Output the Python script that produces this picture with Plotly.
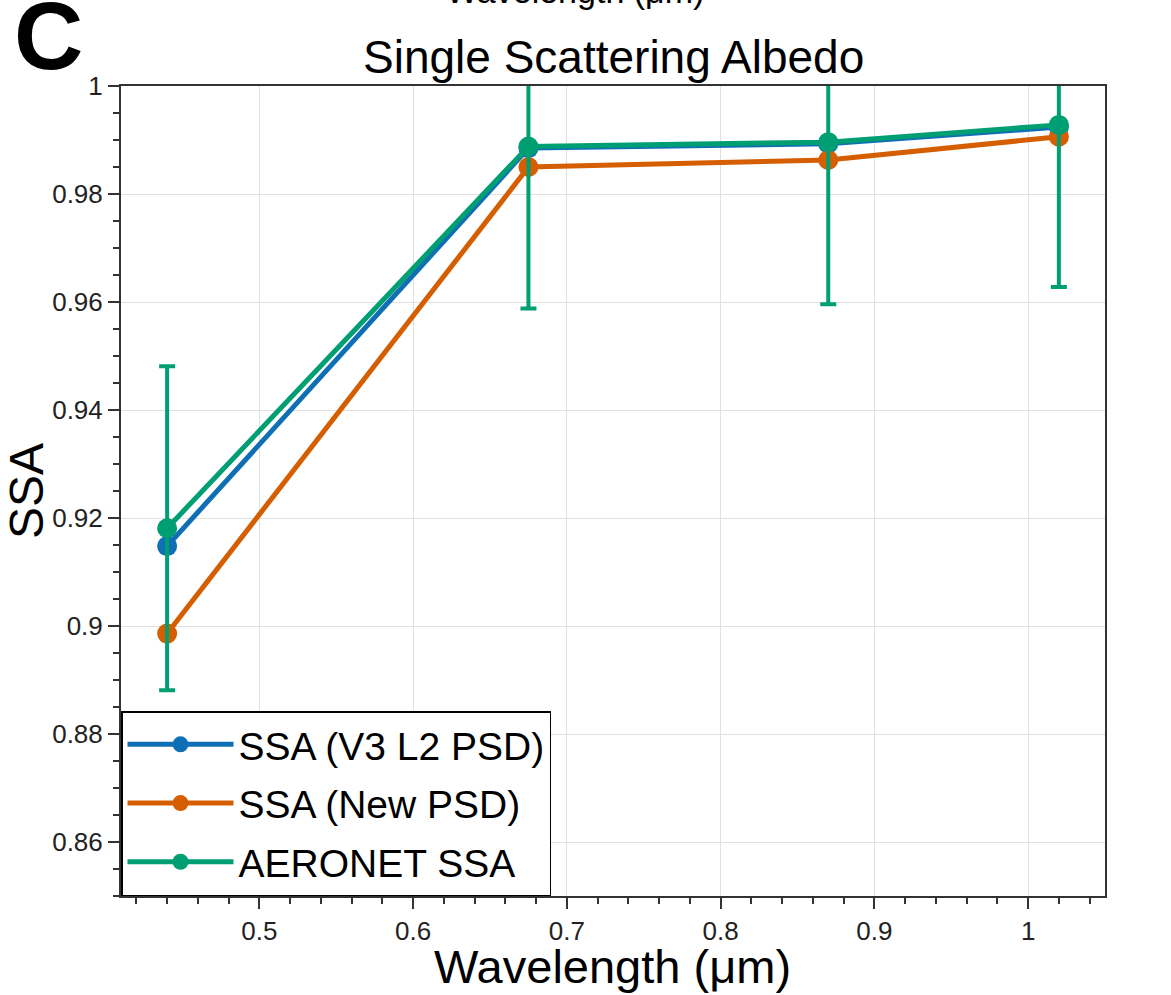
import plotly.graph_objects as go

wavelength = [0.44, 0.675, 0.87, 1.02]
ssa_v3 = [0.9148, 0.9885, 0.9893, 0.9924]
ssa_new = [0.8986, 0.9850, 0.9863, 0.9906]
ssa_aeronet = [0.9181, 0.9888, 0.9896, 0.9928]
aeronet_err = [0.03, 0.03, 0.03, 0.03]

names = ["SSA (V3 L2 PSD)", "SSA (New PSD)", "AERONET SSA"]
colors = ["#0f6fb4", "#d55e00", "#009e73"]

FONT = "Liberation Sans, Arial, sans-serif"

fig = go.Figure()
for name, ys, c in [(names[0], ssa_v3, colors[0]), (names[1], ssa_new, colors[1])]:
    fig.add_trace(go.Scatter(x=wavelength, y=ys, name=name, legendgroup=name, mode="lines+markers",
                             line=dict(color=c, width=5),
                             marker=dict(color=c, size=20)))
fig.add_trace(go.Scatter(x=wavelength, y=ssa_aeronet, name=names[2], legendgroup=names[2], mode="lines+markers",
                         line=dict(color=colors[2], width=5),
                         marker=dict(color=colors[2], size=20),
                         error_y=dict(type="data", array=aeronet_err, visible=True,
                                      color=colors[2], thickness=4, width=8)))

fig.update_layout(
    width=1171, height=995,
    margin=dict(l=121, r=66, t=86, b=99),
    paper_bgcolor="white", plot_bgcolor="white",
    font=dict(family=FONT, color="black"),
    showlegend=True,
    legend=dict(x=0, y=0, xanchor="left", yanchor="bottom",
                bgcolor="white", bordercolor="black", borderwidth=1.5,
                font=dict(size=39, family=FONT), traceorder="grouped", tracegroupgap=5,
                itemwidth=106),
)
fig.update_xaxes(range=[0.41, 1.05], dtick=0.1, tick0=0, automargin=False,
                 showline=True, linecolor="#333", linewidth=2, mirror=True,
                 ticks="outside", ticklen=11, tickwidth=2, tickcolor="#333",
                 tickfont=dict(size=26, color="#222"),
                 minor=dict(dtick=0.02, ticks="outside", ticklen=6, tickwidth=1.5, tickcolor="#333", showgrid=False),
                 showgrid=True, gridcolor="#e0e0e0", gridwidth=1, zeroline=False)
fig.update_yaxes(range=[0.85, 1.0], dtick=0.02, tick0=0, automargin=False,
                 showline=True, linecolor="#333", linewidth=2, mirror=True,
                 ticks="outside", ticklen=11, tickwidth=2, tickcolor="#333",
                 tickfont=dict(size=26, color="#222"),
                 minor=dict(dtick=0.005, ticks="outside", ticklen=6, tickwidth=1.5, tickcolor="#333", showgrid=False),
                 showgrid=True, gridcolor="#e0e0e0", gridwidth=1, zeroline=False,
                 title=dict(text="SSA", font=dict(size=48, family=FONT), standoff=4))

fig.add_annotation(text="Wavelength (μm)", xref="paper", yref="paper", x=(612 - 121) / 984, y=-(966 - 896) / 810,
                   xanchor="center", yanchor="middle", showarrow=False,
                   font=dict(size=47, family=FONT, color="black"))
fig.add_annotation(text="Single Scattering Albedo", xref="paper", yref="paper", x=0.5, y=1 + (86 - 57) / 810,
                   xanchor="center", yanchor="middle", showarrow=False,
                   font=dict(size=46, family=FONT, color="black"))
fig.add_annotation(text="<b>C</b>", xref="paper", yref="paper", x=(12 - 121) / 984, y=1 + (86 - 36) / 810,
                   xanchor="left", yanchor="middle", showarrow=False,
                   font=dict(size=96, family=FONT, color="black"))
fig.add_annotation(text="Wavelength (μm)", xref="paper", yref="paper", x=0.461, y=1 + (86 + 9) / 810,
                   xanchor="center", yanchor="middle", showarrow=False,
                   font=dict(size=34, family=FONT, color="black"))

fig.write_html("out.html")
